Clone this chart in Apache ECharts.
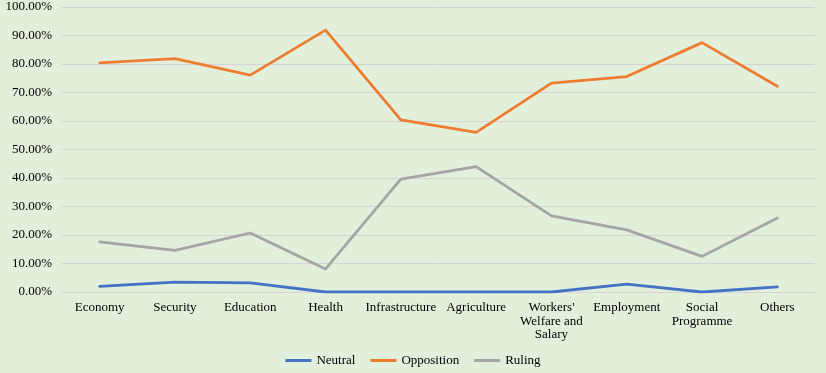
<!DOCTYPE html>
<html><head><meta charset="utf-8">
<script src="https://cdn.jsdelivr.net/npm/echarts@6/dist/echarts.min.js"></script>
<style>html,body{margin:0;padding:0;background:#E2EFDA}#c{width:826px;height:373px}</style>
</head><body><div id="c"></div>
<script>
const categories = ['Economy','Security','Education','Health','Infrastructure','Agriculture',"Workers'\nWelfare and\nSalary",'Employment','Social\nProgramme','Others'];
const neutral = [2.0,3.5,3.2,0,0,0,0,2.8,0,1.8];
const opposition = [80.4,81.9,76.1,91.9,60.4,56.0,73.3,75.6,87.5,72.2];
const ruling = [17.6,14.6,20.7,8.1,39.6,44.0,26.7,21.8,12.5,26.0];
const yTicks = [0,10,20,30,40,50,60,70,80,90,100];
const font = '"Liberation Serif", "DejaVu Serif", serif';
const chart = echarts.init(document.getElementById('c'));
const mk = (name, data, color) => ({name, type:'line', data, symbol:'none', smooth:false,
  lineStyle:{color, width:2.8, cap:'round', join:'round'}, itemStyle:{color}});
chart.setOption({
  backgroundColor:'#E2EFDA',
  animation:false,
  grid:{left:62,right:11,top:7,bottom:81},
  xAxis:{type:'category',data:categories,boundaryGap:true,
    axisLine:{show:false},axisTick:{show:false},
    axisLabel:{interval:0,color:'#000',fontFamily:font,fontSize:13,lineHeight:13.5,margin:9}},
  yAxis:{type:'value',min:yTicks[0],max:yTicks[yTicks.length-1],interval:10,
    axisLine:{show:false},axisTick:{show:false},
    splitLine:{lineStyle:{color:'#D4D4D4',width:1}},
    axisLabel:{color:'#000',fontFamily:font,fontSize:13,margin:10,formatter:v=>v.toFixed(2)+'%'}},
  legend:{bottom:1,left:'center',itemWidth:26,itemHeight:3,itemGap:15,icon:'rect',
    textStyle:{fontFamily:font,fontSize:13,color:'#000'},
    data:['Neutral','Opposition','Ruling']},
  series:[mk('Neutral',neutral,'#4472C4'),mk('Opposition',opposition,'#ED7D31'),mk('Ruling',ruling,'#A5A5A5')]
});
</script></body></html>
